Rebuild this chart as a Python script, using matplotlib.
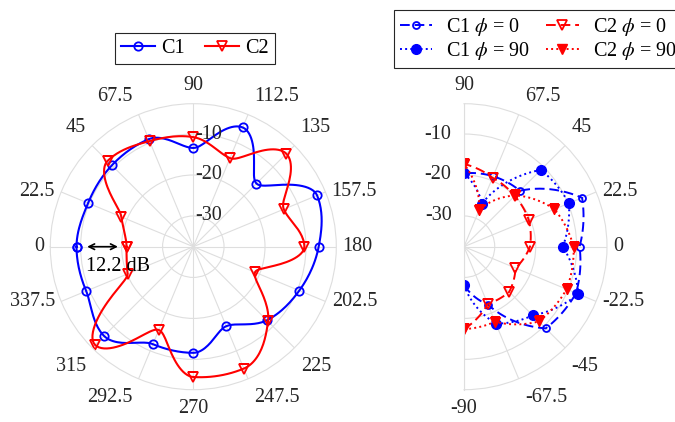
import numpy as np
import matplotlib.pyplot as plt

plt.rcParams['font.family'] = ['Liberation Serif', 'DejaVu Serif']
plt.rcParams['mathtext.fontset'] = 'stix'
plt.rcParams['font.size'] = 14.5

# left plot: full azimuth cut (dB)
theta_full = np.arange(0, 360, 22.5)
c1 = [-9.0, -9.7, -9.4, -9.1, -13.4, -6.0, -15.7, -4.8,
      -6.9, -9.5, -12.1, -16.5, -11.6, -11.75, -6.7, -9.2]
c2 = [-21.2, -18.5, -7.9, -9.6, -10.75, -14.1, -5.4, -13.6,
      -10.4, -21.2, -11.7, -5.3, -5.7, -15.5, -3.6, -20.15]

# right plot: elevation cuts (dB)
theta_half = [-90, -67.5, -45, -22.5, 0, 22.5, 45, 67.5, 90]
c1_phi0 = [-28.2, -22.2, -9.3, -7.9, -9.3, -6.3, -18.2, -18.9, -19.6]
c1_phi90 = [-28.2, -17.2, -13.8, -7.3, -13.4, -9.8, -11.0, -26.1, -19.6]
c2_phi0 = [-17.4, -22.4, -21.9, -23.9, -21.4, -20.4, -20.0, -19.3, -17.3]
c2_phi90 = [-17.4, -17.7, -11.7, -10.4, -10.75, -13.6, -19.8, -27.7, -17.3]

r_ticks = [-30, -20, -10]
R_MIN, R_MAX = -37.5, -2.6
GRID = '#dedede'
TXT = '#262626'


def smooth_closed(theta_deg, vals, n=24):
    # periodic pchip through the measured points (for drawing only)
    v = np.asarray(vals, float)
    h = theta_deg[1] - theta_deg[0]
    sec = (np.roll(v, -1) - v) / h
    prev = np.roll(sec, 1)
    same = prev * sec > 0
    d = np.zeros_like(v)
    d[same] = 2.0 / (1.0 / prev[same] + 1.0 / sec[same])
    t = np.linspace(0, 1, n, endpoint=False)
    h00 = 2 * t**3 - 3 * t**2 + 1
    h10 = t**3 - 2 * t**2 + t
    h01 = -2 * t**3 + 3 * t**2
    h11 = t**3 - t**2
    th, rr = [], []
    N = len(v)
    for k in range(N):
        k1 = (k + 1) % N
        th.append(theta_deg[k] + t * h)
        rr.append(h00 * v[k] + h10 * h * d[k] + h01 * v[k1] + h11 * h * d[k1])
    th.append([theta_deg[0] + 360])
    rr.append([v[0]])
    return np.radians(np.concatenate(th)), np.concatenate(rr)


def arcs(theta_deg, vals, n=12):
    th = np.linspace(theta_deg[0], theta_deg[-1], (len(theta_deg) - 1) * n + 1)
    return np.radians(th), np.interp(th, theta_deg, vals)


def style_polar(ax, ticks, screen_angle, rl_dx, rl_ha):
    ax.set_rlim(R_MIN, R_MAX)
    ax.set_thetagrids(ticks, labels=[''] * len(ticks))
    ax.set_rgrids(r_ticks, labels=[''] * len(r_ticks))
    ax.grid(color=GRID, lw=0.8)
    for sp in ax.spines.values():
        sp.set_color(GRID)
        sp.set_linewidth(0.8)
    ax.tick_params(length=0)
    for t in ticks:
        a = np.radians(screen_angle(t))
        c, s = np.cos(a), np.sin(a)
        ha = 'center' if abs(c) < 0.2 else ('left' if c > 0 else 'right')
        va = 'center' if abs(s) < 0.6 else ('bottom' if s > 0 else 'top')
        dx = 0 if ha == 'center' else 4.5 * np.sign(c)
        dy = 0 if va == 'center' else 6.5 * np.sign(s)
        ax.annotate(f'{t:g}', xy=(np.radians(t), R_MAX), xytext=(dx, dy),
                    textcoords='offset points', ha=ha, va=va, color=TXT,
                    annotation_clip=False)
    for r in r_ticks:
        ax.annotate(f'{r}', xy=(np.radians(90), r), xytext=(rl_dx, 0),
                    textcoords='offset points', ha=rl_ha, va='center',
                    color=TXT, annotation_clip=False, zorder=5)


fig = plt.figure(figsize=(6.75, 4.22), dpi=100)

# ---- left: azimuth pattern
ax1 = fig.add_axes([50.3 / 675, 32.3 / 422, 286 / 675, 286 / 422], projection='polar')
ax1.set_theta_zero_location('W')
ax1.set_theta_direction(-1)
n = 24
th, rr = smooth_closed(theta_full, c1, n)
ax1.plot(th, rr, color='blue', lw=1.5, marker='o', ms=6, mfc='none', mew=1.3,
         markevery=n, label='C1')
th, rr = smooth_closed(theta_full, c2, n)
ax1.plot(th, rr, color='red', lw=1.5, marker='v', ms=6.5, mfc='none', mew=1.3,
         markevery=n, label='C2')
style_polar(ax1, list(theta_full), lambda t: 180 - t, 1.5, 'left')

# level difference at 0 deg
r_a, r_b = c1[0] - 2.6, c2[0] + 2.1
ax1.annotate('', xy=(0, r_b), xytext=(0, r_a),
             arrowprops=dict(arrowstyle='<->', color='black', lw=1.2,
                             mutation_scale=10, shrinkA=0, shrinkB=0))
ax1.annotate(f'{c1[0] - c2[0]:.1f} dB', xy=(0, r_a), xytext=(-0.5, -14),
             textcoords='offset points', ha='left', va='center', color='black')

ax1.legend(loc='upper left', bbox_to_anchor=(115 / 675, 1 - 33 / 422),
           bbox_transform=fig.transFigure, ncol=2, borderaxespad=0,
           fancybox=False, edgecolor='#262626', framealpha=1,
           handlelength=1.7, handletextpad=0.3, columnspacing=1.0,
           borderpad=0.3)
ax1.get_legend().get_frame().set_linewidth(0.8)

# ---- right: elevation cuts (half plane, wedge is centred in a square box)
ax2 = fig.add_axes([392.5 / 675, 32.3 / 422, 286 / 675, 286 / 422], projection='polar')
ax2.set_thetamin(-90)
ax2.set_thetamax(90)
k = 12
th, rr = arcs(theta_half, c1_phi0, k)
ax2.plot(th, rr, color='blue', lw=1.4, dashes=(5, 2.5), marker='o', ms=5,
         mfc='none', mew=1.3, markevery=k, label=r'C1 $\phi$ = 0')
th, rr = arcs(theta_half, c1_phi90, k)
ax2.plot(th, rr, color='blue', lw=1.4, ls=':', marker='o', ms=7,
         markevery=k, label=r'C1 $\phi$ = 90')
th, rr = arcs(theta_half, c2_phi0, k)
ax2.plot(th, rr, color='red', lw=1.4, dashes=(5, 2.5), marker='v', ms=6.5,
         mfc='none', mew=1.3, markevery=k, label=r'C2 $\phi$ = 0')
th, rr = arcs(theta_half, c2_phi90, k)
ax2.plot(th, rr, color='red', lw=1.4, ls=':', marker='v', ms=7.5,
         markevery=k, label=r'C2 $\phi$ = 90')
style_polar(ax2, theta_half, lambda t: t, -9, 'right')

ax2.legend(loc='upper left', bbox_to_anchor=(394 / 675, 1 - 10 / 422),
           bbox_transform=fig.transFigure, ncol=2, borderaxespad=0,
           fancybox=False, edgecolor='#262626', framealpha=1,
           handlelength=1.6, handletextpad=0.7, columnspacing=0.8,
           borderpad=0.3, labelspacing=0.1)
ax2.get_legend().get_frame().set_linewidth(0.8)

fig.savefig('out.png', dpi=100)
